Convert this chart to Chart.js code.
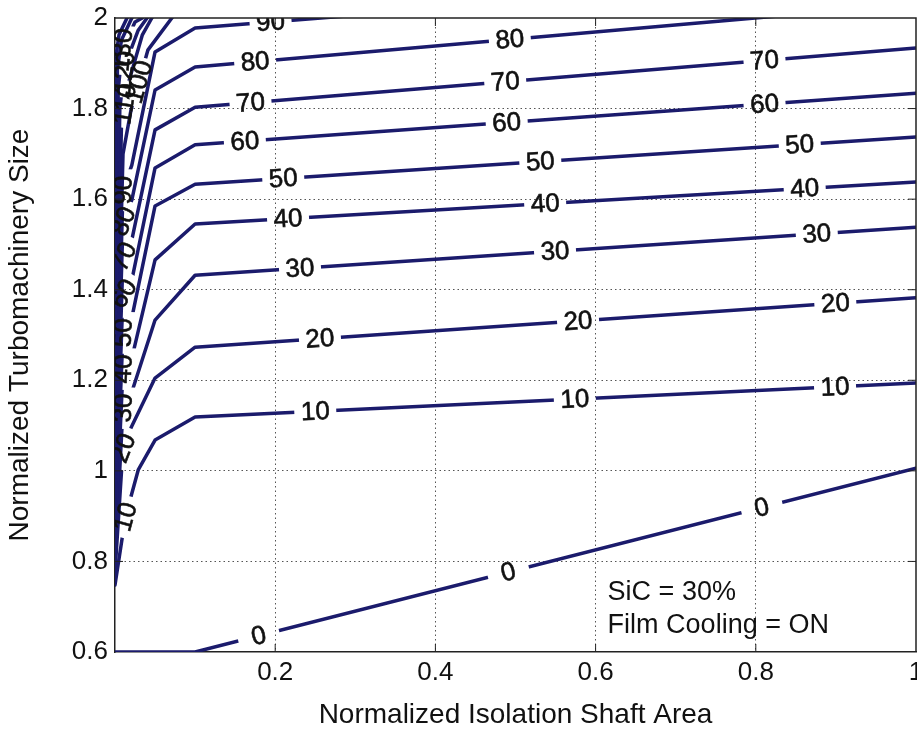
<!DOCTYPE html>
<html>
<head>
<meta charset="utf-8">
<script src="https://cdn.jsdelivr.net/npm/chart.js@4/dist/chart.umd.min.js"></script>
<style>
  html, body { margin: 0; padding: 0; background: #ffffff; }
  canvas { display: block; }
</style>
</head>
<body>
<canvas id="chart" width="917" height="732"></canvas>
<script>
// Contour levels of the plotted quantity
const levels = [0, 10, 20, 30, 40, 50, 60, 70, 80, 90, 100, 110, 120, 130, 140, 150];

// Traced contour paths: [normalized isolation shaft area, normalized turbomachinery size]
const contour0   = [[0, 0.6], [0.1, 0.6], [1, 1.006]];
const contour10  = [[0, 0.748], [0.013, 0.898], [0.029, 1.002], [0.05, 1.068], [0.1, 1.119], [1, 1.194]];
const contour20  = [[0, 0.777], [0.01, 1.05], [0.02, 1.095], [0.05, 1.205], [0.1, 1.273], [1, 1.382]];
const contour30  = [[0, 0.803], [0.01, 1.139], [0.021, 1.174], [0.05, 1.333], [0.1, 1.432], [1, 1.538]];
const contour40  = [[0, 0.836], [0.01, 1.225], [0.022, 1.256], [0.05, 1.466], [0.1, 1.545], [1, 1.638]];
const contour50  = [[0, 0.869], [0.01, 1.305], [0.021, 1.338], [0.05, 1.585], [0.1, 1.633], [1, 1.737]];
const contour60  = [[0, 0.903], [0.01, 1.39], [0.021, 1.421], [0.05, 1.669], [0.1, 1.72], [1, 1.834]];
const contour70  = [[0, 0.936], [0.01, 1.47], [0.021, 1.51], [0.05, 1.753], [0.1, 1.803], [1, 1.934]];
const contour80  = [[0, 0.969], [0.01, 1.55], [0.021, 1.598], [0.05, 1.841], [0.1, 1.892], [1, 2.031]];
const contour90  = [[0, 1.002], [0.01, 1.62], [0.021, 1.675], [0.05, 1.925], [0.1, 1.978], [1, 2.104]];
const contour100 = [[0, 1.035], [0.01, 1.7], [0.02, 1.797], [0.041, 1.929], [0.071, 2.0], [0.1, 2.062]];
const contour110 = [[0, 1.068], [0.008, 1.76], [0.016, 1.852], [0.034, 1.962], [0.046, 2.0], [0.062, 2.04]];
const contour120 = [[0, 1.09], [0.006, 1.8], [0.0125, 1.896], [0.029, 1.973], [0.04, 2.0], [0.056, 2.04]];
const contour130 = [[0, 1.112], [0.004, 1.841], [0.009, 1.929], [0.025, 1.991], [0.034, 2.0], [0.046, 2.035]];
const contour140 = [[0, 1.13], [0.003, 1.885], [0.008, 1.951], [0.021, 2.0], [0.031, 2.03]];
const contour150 = [[0, 1.15], [0.0015, 1.919], [0.005, 1.963], [0.015, 2.0], [0.023, 2.03]];

const contourPaths = [contour0, contour10, contour20, contour30, contour40, contour50, contour60,
  contour70, contour80, contour90, contour100, contour110, contour120, contour130, contour140, contour150];

// Axis ticks
const xTickValues = [0, 0.2, 0.4, 0.6, 0.8, 1];
const xTickLabels = ['', '0.2', '0.4', '0.6', '0.8', '1'];
const yTickValues = [0.6, 0.8, 1.0, 1.2, 1.4, 1.6, 1.8, 2.0];
const yTickLabels = ['0.6', '0.8', '1', '1.2', '1.4', '1.6', '1.8', '2'];

// Where each inline level label sits (level, approximate x, approximate y)
const labelSpots = [
  [0, 0.179, 0.638], [0, 0.491, 0.777], [0, 0.809, 0.909],
  [10, 0.014, 0.898], [10, 0.25, 1.132], [10, 0.574, 1.161], [10, 0.899, 1.183],
  [20, 0.011, 1.05], [20, 0.256, 1.289], [20, 0.578, 1.333], [20, 0.899, 1.377],
  [30, 0.009, 1.139], [30, 0.231, 1.446], [30, 0.549, 1.494], [30, 0.876, 1.527],
  [40, 0.008, 1.227], [40, 0.216, 1.558], [40, 0.537, 1.591], [40, 0.861, 1.625],
  [50, 0.007, 1.307], [50, 0.21, 1.647], [50, 0.531, 1.682], [50, 0.855, 1.717],
  [60, 0.007, 1.395], [60, 0.162, 1.731], [60, 0.489, 1.77], [60, 0.811, 1.808],
  [70, 0.006, 1.477], [70, 0.169, 1.817], [70, 0.487, 1.863], [70, 0.811, 1.903],
  [80, 0.006, 1.554], [80, 0.175, 1.903], [80, 0.493, 1.951],
  [90, 0.006, 1.62], [90, 0.194, 1.996],
  [100, 0.0275, 1.86], [110, 0.012, 1.81], [120, 0.008, 1.88], [130, 0.005, 1.93]
];

const FONT = "'Liberation Sans', Arial, Helvetica, sans-serif";
const LINE_COLOR = '#1b1b6c';
const LABEL_SIZE = 26;

function placeLabels(chart) {
  const xs = chart.scales.x, ys = chart.scales.y, ctx = chart.ctx;
  ctx.save();
  ctx.font = LABEL_SIZE + 'px ' + FONT;
  const out = [];
  labelSpots.forEach(([lv, tx, ty]) => {
    const idx = levels.indexOf(lv);
    const pts = contourPaths[idx].map(([x, y]) => [xs.getPixelForValue(x), ys.getPixelForValue(y)]);
    const px = xs.getPixelForValue(tx), py = ys.getPixelForValue(ty);
    let best = null;
    for (let k = 0; k < pts.length - 1; k++) {
      const [x1, y1] = pts[k], [x2, y2] = pts[k + 1];
      const dx = x2 - x1, dy = y2 - y1, L2 = dx * dx + dy * dy;
      let t = L2 ? ((px - x1) * dx + (py - y1) * dy) / L2 : 0;
      t = Math.max(0, Math.min(1, t));
      const cx = x1 + t * dx, cy = y1 + t * dy;
      const d = (cx - px) ** 2 + (cy - py) ** 2;
      if (!best || d < best.d) {
        let a = Math.atan2(dy, dx);
        if (a > Math.PI / 2) a -= Math.PI;
        if (a < -Math.PI / 2) a += Math.PI;
        best = { d, cx, cy, a };
      }
    }
    const text = String(lv);
    const w = ctx.measureText(text).width;
    out.push({ idx, text, x: best.cx, y: best.cy, a: best.a, hw: Math.max(w / 2 + 3, 21), hh: LABEL_SIZE * 0.5 });
  });
  ctx.restore();
  return out;
}

const contourLabels = {
  id: 'contourLabels',
  beforeDatasetsDraw(chart) {
    chart.$labels = placeLabels(chart);
  },
  beforeDatasetDraw(chart, args) {
    const ctx = chart.ctx;
    ctx.save();
    const mine = (chart.$labels || []).filter(l => l.idx === args.index);
    ctx.beginPath();
    ctx.rect(0, 0, chart.width, chart.height);
    mine.forEach(l => {
      const c = Math.cos(l.a), s = Math.sin(l.a);
      const corners = [[-l.hw, -l.hh], [l.hw, -l.hh], [l.hw, l.hh], [-l.hw, l.hh]]
        .map(([u, v]) => [l.x + u * c - v * s, l.y + u * s + v * c]);
      ctx.moveTo(corners[0][0], corners[0][1]);
      for (let k = 1; k < 4; k++) ctx.lineTo(corners[k][0], corners[k][1]);
      ctx.closePath();
    });
    ctx.clip('evenodd');
  },
  afterDatasetDraw(chart) {
    chart.ctx.restore();
  },
  afterDatasetsDraw(chart) {
    const ctx = chart.ctx, area = chart.chartArea;
    ctx.save();
    ctx.beginPath();
    ctx.rect(area.left, area.top, area.right - area.left, area.bottom - area.top);
    ctx.clip();
    ctx.font = LABEL_SIZE + 'px ' + FONT;
    ctx.fillStyle = '#111111';
    ctx.strokeStyle = '#111111';
    ctx.lineWidth = 0.6;
    ctx.textAlign = 'center';
    ctx.textBaseline = 'middle';
    (chart.$labels || []).forEach(l => {
      ctx.save();
      ctx.translate(l.x, l.y);
      ctx.rotate(l.a);
      ctx.fillText(l.text, 0, 1);
      ctx.strokeText(l.text, 0, 1);
      ctx.restore();
    });
    ctx.restore();
  },
  afterDraw(chart) {
    const ctx = chart.ctx, a = chart.chartArea;
    const xs = chart.scales.x, ys = chart.scales.y;
    ctx.save();
    // box frame (top and right sides)
    ctx.strokeStyle = '#222222';
    ctx.lineWidth = 1.5;
    ctx.beginPath();
    ctx.moveTo(a.left, a.top);
    ctx.lineTo(a.right, a.top);
    ctx.lineTo(a.right, a.bottom);
    ctx.stroke();
    // inward tick marks on all four sides
    ctx.lineWidth = 1;
    const tl = 8;
    ctx.beginPath();
    xTickValues.slice(1, -1).forEach(v => {
      const p = xs.getPixelForValue(v);
      ctx.moveTo(p, a.bottom); ctx.lineTo(p, a.bottom - tl);
      ctx.moveTo(p, a.top); ctx.lineTo(p, a.top + tl);
    });
    yTickValues.slice(1, -1).forEach(v => {
      const p = ys.getPixelForValue(v);
      ctx.moveTo(a.left, p); ctx.lineTo(a.left + tl, p);
      ctx.moveTo(a.right, p); ctx.lineTo(a.right - tl, p);
    });
    ctx.stroke();
    // annotation
    ctx.fillStyle = '#111111';
    ctx.font = '27px ' + FONT;
    ctx.textAlign = 'left';
    ctx.textBaseline = 'alphabetic';
    ctx.fillText('SiC = 30%', xs.getPixelForValue(0.615), ys.getPixelForValue(0.715));
    ctx.fillText('Film Cooling = ON', xs.getPixelForValue(0.615), ys.getPixelForValue(0.642));
    ctx.restore();
  }
};

const datasets = levels.map((lv, i) => ({
  label: String(lv),
  data: contourPaths[i].map(([x, y]) => ({ x, y })),
  borderColor: LINE_COLOR,
  backgroundColor: LINE_COLOR,
  borderWidth: 3.5,
  pointRadius: 0,
  pointHoverRadius: 0,
  tension: 0,
  fill: false,
  clip: 0,
  borderJoinStyle: 'round',
  borderCapStyle: 'round'
}));

function gridColor(ctx) {
  const n = ctx.scale.ticks.length;
  return (ctx.index === 0 || ctx.index === n - 1) ? 'rgba(0,0,0,0)' : '#555555';
}

new Chart(document.getElementById('chart'), {
  type: 'line',
  data: { datasets },
  options: {
    responsive: false,
    animation: false,
    devicePixelRatio: 1,
    events: [],
    layout: { padding: { top: 18, right: 1, bottom: 0, left: 0 } },
    plugins: { legend: { display: false }, tooltip: { enabled: false } },
    scales: {
      x: {
        type: 'linear',
        min: 0, max: 1,
        afterBuildTicks(s) { s.ticks = xTickValues.map(v => ({ value: v })); },
        afterFit(s) { s.height = 80; s.paddingLeft = 0; s.paddingRight = 0; },
        ticks: {
          callback: (v, i) => xTickLabels[i],
          font: { family: FONT, size: 26 },
          color: '#111111',
          padding: 5,
          maxRotation: 0,
          autoSkip: false
        },
        grid: { color: gridColor, lineWidth: 1, drawTicks: false },
        border: { display: true, color: '#222222', width: 1.5, dash: [1.5, 3] },
        title: {
          display: true,
          text: 'Normalized Isolation Shaft Area',
          font: { family: FONT, size: 28 },
          color: '#111111',
          padding: { top: 0, bottom: 0 }
        }
      },
      y: {
        type: 'linear',
        min: 0.6, max: 2,
        afterBuildTicks(s) { s.ticks = yTickValues.map(v => ({ value: v })); },
        afterFit(s) { s.width = 115; s.paddingTop = 0; s.paddingBottom = 0; },
        ticks: {
          callback: (v, i) => yTickLabels[i],
          font: { family: FONT, size: 26 },
          color: '#111111',
          padding: 7,
          autoSkip: false
        },
        grid: { color: gridColor, lineWidth: 1, drawTicks: false },
        border: { display: true, color: '#222222', width: 1.5, dash: [1.5, 3] },
        title: {
          display: true,
          text: 'Normalized Turbomachinery Size',
          font: { family: FONT, size: 28 },
          color: '#111111',
          padding: { top: 3, bottom: 0 }
        }
      }
    }
  },
  plugins: [contourLabels]
});
</script>
</body>
</html>
